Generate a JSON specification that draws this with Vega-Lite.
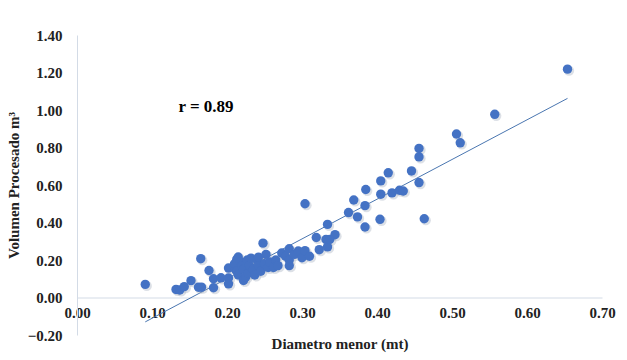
{
  "$schema": "https://vega.github.io/schema/vega-lite/v6.json",
  "width": 525,
  "height": 300,
  "autosize": {"type": "none"},
  "padding": {"left": 77, "top": 35, "right": 25, "bottom": 25},
  "background": "white",
  "config": {
    "view": {"stroke": null},
    "font": "Liberation Serif",
    "axis": {"labelOverlap": false, "labelFlush": false}
  },
  "datasets": {
    "pts": [
      {"d": 0.091, "v": 0.07}, {"d": 0.132, "v": 0.043}, {"d": 0.137, "v": 0.04}, {"d": 0.143, "v": 0.058},
      {"d": 0.152, "v": 0.09}, {"d": 0.162, "v": 0.055}, {"d": 0.166, "v": 0.055}, {"d": 0.165, "v": 0.207},
      {"d": 0.176, "v": 0.144}, {"d": 0.182, "v": 0.10}, {"d": 0.182, "v": 0.052}, {"d": 0.192, "v": 0.105},
      {"d": 0.202, "v": 0.157}, {"d": 0.202, "v": 0.104}, {"d": 0.202, "v": 0.073}, {"d": 0.213, "v": 0.203},
      {"d": 0.215, "v": 0.216}, {"d": 0.211, "v": 0.153}, {"d": 0.21, "v": 0.18}, {"d": 0.213, "v": 0.14},
      {"d": 0.215, "v": 0.12}, {"d": 0.218, "v": 0.19}, {"d": 0.22, "v": 0.17}, {"d": 0.222, "v": 0.15},
      {"d": 0.222, "v": 0.091}, {"d": 0.225, "v": 0.11}, {"d": 0.227, "v": 0.2}, {"d": 0.228, "v": 0.13},
      {"d": 0.23, "v": 0.17}, {"d": 0.232, "v": 0.21}, {"d": 0.235, "v": 0.15}, {"d": 0.237, "v": 0.12},
      {"d": 0.24, "v": 0.2}, {"d": 0.242, "v": 0.215}, {"d": 0.242, "v": 0.17}, {"d": 0.245, "v": 0.14},
      {"d": 0.248, "v": 0.29}, {"d": 0.25, "v": 0.18}, {"d": 0.252, "v": 0.23}, {"d": 0.255, "v": 0.16},
      {"d": 0.257, "v": 0.19}, {"d": 0.262, "v": 0.16}, {"d": 0.265, "v": 0.2}, {"d": 0.268, "v": 0.17},
      {"d": 0.273, "v": 0.237}, {"d": 0.278, "v": 0.22}, {"d": 0.283, "v": 0.26}, {"d": 0.283, "v": 0.2},
      {"d": 0.283, "v": 0.17}, {"d": 0.29, "v": 0.23}, {"d": 0.295, "v": 0.248}, {"d": 0.30, "v": 0.212},
      {"d": 0.304, "v": 0.25}, {"d": 0.304, "v": 0.50}, {"d": 0.31, "v": 0.22}, {"d": 0.319, "v": 0.32},
      {"d": 0.323, "v": 0.255}, {"d": 0.332, "v": 0.31}, {"d": 0.334, "v": 0.39}, {"d": 0.334, "v": 0.27},
      {"d": 0.344, "v": 0.335}, {"d": 0.337, "v": 0.31}, {"d": 0.362, "v": 0.453}, {"d": 0.369, "v": 0.52},
      {"d": 0.374, "v": 0.43}, {"d": 0.385, "v": 0.576}, {"d": 0.384, "v": 0.49}, {"d": 0.384, "v": 0.376},
      {"d": 0.405, "v": 0.622}, {"d": 0.405, "v": 0.551}, {"d": 0.404, "v": 0.417}, {"d": 0.415, "v": 0.665},
      {"d": 0.42, "v": 0.558}, {"d": 0.43, "v": 0.572}, {"d": 0.435, "v": 0.568}, {"d": 0.446, "v": 0.675},
      {"d": 0.456, "v": 0.795}, {"d": 0.456, "v": 0.75}, {"d": 0.456, "v": 0.613}, {"d": 0.463, "v": 0.42},
      {"d": 0.506, "v": 0.872}, {"d": 0.511, "v": 0.825}, {"d": 0.557, "v": 0.977}, {"d": 0.654, "v": 1.218}
    ],
    "trend": [
      {"d": 0.091, "v": -0.13},
      {"d": 0.654, "v": 1.062}
    ],
    "label": [
      {"d": 0.172, "v": 1.016, "t": "r = 0.89"}
    ]
  },
  "encoding": {
    "x": {
      "field": "d", "type": "quantitative",
      "scale": {"domain": [0, 0.7], "nice": false, "zero": false},
      "axis": {
        "title": "Diametro menor (mt)",
        "values": [0, 0.1, 0.2, 0.3, 0.4, 0.5, 0.6, 0.7],
        "format": ".2f",
        "offset": -37.5,
        "grid": false,
        "ticks": false,
        "labelFlush": false,
        "labelOverlap": false,
        "domainColor": "#d3dbe6",
        "domainWidth": 1,
        "labelFont": "Liberation Serif",
        "labelFontWeight": "bold",
        "labelFontSize": 15,
        "labelColor": "#222222",
        "labelPadding": 8,
        "titleFont": "Liberation Serif",
        "titleFontWeight": "bold",
        "titleFontSize": 15,
        "titleColor": "#222222",
        "titlePadding": 16
      }
    },
    "y": {
      "field": "v", "type": "quantitative",
      "scale": {"domain": [-0.2, 1.4], "nice": false, "zero": false},
      "axis": {
        "title": "Volumen Procesado m³",
        "values": [-0.2, 0, 0.2, 0.4, 0.6, 0.8, 1.0, 1.2, 1.4],
        "format": ".2f",
        "grid": false,
        "ticks": false,
        "labelFlush": false,
        "labelOverlap": false,
        "domainColor": "#d3dbe6",
        "domainWidth": 1,
        "labelFont": "Liberation Serif",
        "labelFontWeight": "bold",
        "labelFontSize": 15,
        "labelColor": "#222222",
        "labelPadding": 15,
        "titleFont": "Liberation Serif",
        "titleFontWeight": "bold",
        "titleFontSize": 15,
        "titleColor": "#222222",
        "titlePadding": 6
      }
    }
  },
  "layer": [
    {
      "data": {"name": "trend"},
      "mark": {"type": "line", "color": "#4a76b0", "strokeWidth": 1}
    },
    {
      "data": {"name": "pts"},
      "mark": {"type": "point", "filled": true, "color": "#9aa6b8", "opacity": 0.35, "size": 105},
      "encoding": {
        "xOffset": {"value": 1.5},
        "yOffset": {"value": 1.5}
      }
    },
    {
      "data": {"name": "pts"},
      "mark": {"type": "point", "filled": true, "color": "#4472c4", "opacity": 1, "size": 88}
    },
    {
      "data": {"name": "label"},
      "mark": {"type": "text", "font": "Liberation Serif", "fontWeight": "bold", "fontSize": 17, "color": "#000000", "align": "center", "baseline": "middle"},
      "encoding": {
        "text": {"field": "t"}
      }
    }
  ]
}
